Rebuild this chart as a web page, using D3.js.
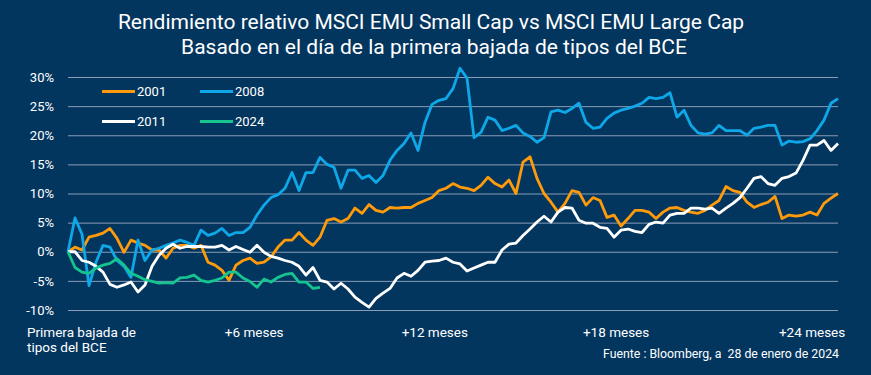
<!DOCTYPE html>
<html>
<head>
<meta charset="utf-8">
<script src="https://cdn.jsdelivr.net/npm/d3@7"></script>
<style>
  body { margin: 0; background: #03365f; }
  svg { display: block; }
  text { font-family: Roboto, "Liberation Sans", sans-serif; fill: #fff; }
</style>
</head>
<body>
<div id="chart"></div>
<script>
// weekly relative performance (%) since the first ECB rate cut
var s2001 = [0, 0.8, 0.3, 2.5, 2.8, 3.2, 4.0, 2.3, -0.1, 2.0,
  1.5, 1.1, 0.3, 0.3, -1.1, 0.6, 1.1, 1.1, 0.6, 1.1,
  -1.8, -2.3, -3.2, -4.9, -2.3, -1.5, -1.1, -2.0, -1.8, -0.9,
  0.8, 2.0, 2.0, 3.3, 2.0, 1.1, 2.5, 5.4, 5.7, 5.1,
  5.7, 7.5, 6.6, 8.1, 7.1, 6.8, 7.6, 7.5, 7.6, 7.6,
  8.3, 8.8, 9.3, 10.5, 10.9, 11.7, 11.1, 10.9, 10.5, 11.4,
  12.8, 11.7, 11.1, 12.3, 10.0, 15.4, 16.3, 12.6, 10.0, 8.5,
  6.8, 8.3, 10.5, 10.2, 8.0, 9.3, 8.8, 5.9, 6.3, 4.4,
  5.7, 7.1, 7.1, 6.8, 5.7, 6.8, 7.5, 7.6, 7.1, 6.8,
  6.6, 7.1, 8.0, 8.8, 11.2, 10.5, 10.2, 8.5, 7.6, 8.1,
  8.5, 9.5, 5.7, 6.3, 6.1, 6.3, 6.8, 6.3, 8.3, 9.2, 10.0];

var s2008 = [0, 5.8, 3.0, -5.8, -1.8, 1.1, 0.8, -1.5, -2.5, -4.4,
  2.0, -1.5, 0.3, 0.6, 1.1, 1.5, 2.0, 1.6, 1.1, 3.7,
  2.8, 3.2, 4.0, 2.8, 3.3, 3.3, 4.2, 6.3, 8.0, 9.3,
  9.8, 10.9, 13.6, 10.5, 13.6, 13.6, 16.2, 15.0, 14.5, 10.9,
  14.0, 14.0, 12.6, 13.1, 11.9, 13.1, 15.7, 17.4, 18.6, 20.4,
  17.4, 22.2, 25.3, 26.0, 26.3, 28.0, 31.5, 29.8, 19.6, 20.5,
  23.1, 22.6, 20.8, 21.2, 21.7, 20.4, 19.8, 18.8, 19.6, 24.0,
  24.3, 23.9, 24.6, 25.5, 22.2, 21.2, 21.4, 22.9, 23.8, 24.3,
  24.6, 25.0, 25.5, 26.5, 26.3, 26.5, 27.3, 23.1, 24.3, 21.7,
  20.4, 20.2, 20.4, 21.7, 20.8, 20.8, 20.8, 20.0, 21.2, 21.4,
  21.7, 21.7, 18.3, 19.0, 18.8, 18.9, 19.4, 20.8, 22.6, 25.5, 26.3];

var s2011 = [0, 0.0, -1.5, -1.8, -2.5, -3.5, -5.6, -6.1, -5.7, -5.2,
  -6.9, -5.7, -2.5, -0.6, 0.6, 1.3, 0.6, 0.9, 0.9, 0.9,
  0.8, 0.8, 1.1, 0.3, 0.9, 0.4, -0.1, 1.1, -0.1, -0.8,
  -1.1, -1.5, -1.8, -2.5, -4.0, -2.7, -4.9, -5.2, -6.4, -5.4,
  -6.4, -7.8, -8.7, -9.5, -8.0, -7.1, -6.3, -4.5, -3.7, -4.2,
  -3.2, -1.8, -1.6, -1.5, -1.1, -1.8, -2.1, -3.3, -2.8, -2.3,
  -1.8, -1.8, 0.3, 1.3, 1.5, 2.8, 3.9, 5.1, 6.1, 5.1,
  6.8, 7.6, 7.5, 5.4, 4.9, 4.9, 4.2, 4.0, 2.5, 3.7,
  3.9, 3.5, 3.3, 4.7, 5.1, 4.9, 6.3, 6.6, 6.6, 7.5,
  7.5, 7.3, 7.5, 6.6, 7.5, 8.3, 9.3, 10.9, 12.6, 12.9,
  11.7, 11.4, 12.6, 12.9, 13.5, 15.7, 18.3, 18.3, 19.1, 17.4, 18.6];

var s2024 = [0, -2.7, -3.5, -3.7, -2.8, -2.3, -2.0, -1.2, -2.3, -3.7,
  -4.2, -4.8, -5.1, -5.4, -5.3, -5.4, -4.5, -4.4, -4.0, -4.9,
  -5.2, -4.9, -4.5, -3.5, -3.5, -4.5, -5.1, -6.1, -4.7, -5.2,
  -4.4, -3.9, -3.7, -5.2, -5.2, -6.3, -6.1];

var seriesNames = ["2001", "2008", "2011", "2024"];
var seriesColors = ["#ff9a0a", "#0ea8e8", "#ffffff", "#15c48f"];
var seriesData = [s2001, s2008, s2011, s2024];

var yTicks = [-10, -5, 0, 5, 10, 15, 20, 25, 30];
var xLabels = ["+6 meses", "+12 meses", "+18 meses", "+24 meses"];
var xLabelWeeks = [26.6, 52.4, 78.3, 106.3];

var width = 871, height = 375;
var margin = {top: 77, right: 33, bottom: 65, left: 68};

var svg = d3.select("#chart")
  .append("svg")
    .attr("width", width)
    .attr("height", height);

svg.append("rect")
  .attr("width", width)
  .attr("height", height)
  .attr("fill", "#03365f");

// title
svg.append("text")
  .attr("x", 431).attr("y", 29)
  .attr("text-anchor", "middle")
  .style("font-size", "21px")
  .text("Rendimiento relativo MSCI EMU Small Cap vs MSCI EMU Large Cap");
svg.append("text")
  .attr("x", 434).attr("y", 54)
  .attr("text-anchor", "middle")
  .style("font-size", "21px")
  .text("Basado en el día de la primera bajada de tipos del BCE");

var x = d3.scaleLinear()
  .domain([0, s2001.length - 1])
  .range([margin.left, width - margin.right]);

var y = d3.scaleLinear()
  .domain([-10, 30])
  .range([height - margin.bottom, margin.top]);

// y axis + gridlines
var yAxis = svg.append("g")
  .attr("transform", "translate(" + margin.left + ",0)")
  .call(d3.axisLeft(y)
    .tickValues(yTicks)
    .tickSize(-(width - margin.left - margin.right))
    .tickPadding(14)
    .tickFormat(function(d) { return d + "%"; }));
yAxis.select(".domain").remove();
yAxis.selectAll("line").attr("stroke", "#8a9db5").attr("stroke-width", 1);
yAxis.selectAll("text")
  .style("font-size", "13px")
  .attr("fill", "#fff")
  .style("font-family", "Roboto, sans-serif");

// x labels
svg.selectAll(".xlab")
  .data(xLabels)
  .enter()
  .append("text")
    .attr("class", "xlab")
    .attr("x", function(d, i) { return x(xLabelWeeks[i]); })
    .attr("y", 337)
    .attr("text-anchor", "middle")
    .style("font-size", "13.5px")
    .text(function(d) { return d; });

svg.append("text")
  .attr("x", x(0) - 41).attr("y", 337)
  .style("font-size", "13.5px")
  .text("Primera bajada de");
svg.append("text")
  .attr("x", x(0) - 41).attr("y", 352)
  .style("font-size", "13.5px")
  .text("tipos del BCE");

// lines
var line = d3.line()
  .x(function(d, i) { return x(i); })
  .y(function(d) { return y(d); });

svg.selectAll(".series")
  .data(seriesData)
  .enter()
  .append("path")
    .attr("class", "series")
    .attr("d", line)
    .attr("fill", "none")
    .attr("stroke", function(d, i) { return seriesColors[i]; })
    .attr("stroke-width", 2.8)
    .attr("stroke-linejoin", "round");

// legend
var legendPos = [[102, 91.5], [200, 91.5], [102, 121.5], [200, 121.5]];
var legend = svg.selectAll(".legend")
  .data(seriesNames)
  .enter()
  .append("g")
    .attr("class", "legend")
    .attr("transform", function(d, i) { return "translate(" + legendPos[i][0] + "," + legendPos[i][1] + ")"; });
legend.append("line")
  .attr("x1", 0).attr("x2", 33)
  .attr("stroke", function(d, i) { return seriesColors[i]; })
  .attr("stroke-width", 3);
legend.append("text")
  .attr("x", 35).attr("dy", "0.36em")
  .style("font-size", "13px")
  .text(function(d) { return d; });

// source
svg.append("text")
  .attr("x", 839).attr("y", 358)
  .attr("text-anchor", "end")
  .style("font-size", "12.3px")
  .style("white-space", "pre")
  .text("Fuente : Bloomberg, a  28 de enero de 2024");
</script>
</body>
</html>
